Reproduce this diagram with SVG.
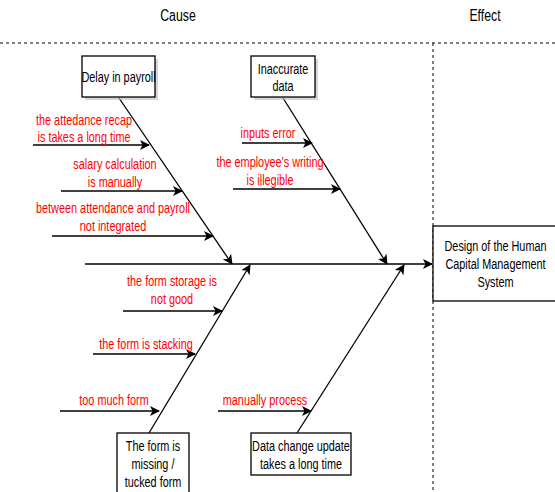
<svg xmlns="http://www.w3.org/2000/svg" width="555" height="492" viewBox="0 0 555 492">
<style>
.t{font-family:"Liberation Sans",Arial,sans-serif;font-size:14.5px;text-anchor:middle}
.r{fill:#ff0000}
.k{fill:#000}
.h{font-size:16px}
.ln{stroke:#000;stroke-width:1.3;fill:none}
.box{fill:#fff;stroke:#000;stroke-width:1.3}
.sh{fill:#bbb;opacity:0.6}
.dash{stroke:#000;stroke-width:1;stroke-dasharray:3 3;fill:none}
</style>
<defs>
<marker id="ah" viewBox="0 0 10 10" refX="9" refY="5" markerWidth="10" markerHeight="10" markerUnits="userSpaceOnUse" orient="auto">
<path d="M0,0 L10,5 L0,10 L2.5,5 Z" fill="#000"/>
</marker>
</defs>
<rect width="555" height="492" fill="#fff"/>
<g id="header">
<text class="t k h" transform="translate(178 21) scale(0.77 1)">Cause</text>
<text class="t k h" transform="translate(485 21) scale(0.77 1)">Effect</text>
<line class="dash" x1="0" y1="43" x2="555" y2="43"/>
<line class="dash" x1="433" y1="43" x2="433" y2="492"/>
</g>
<g id="connectors">
<line class="ln" x1="85" y1="264" x2="432" y2="264" marker-end="url(#ah)"/>
<line class="ln" x1="119" y1="98" x2="232" y2="264" marker-end="url(#ah)"/>
<line class="ln" x1="283" y1="98" x2="387" y2="264" marker-end="url(#ah)"/>
<line class="ln" x1="149" y1="433" x2="250" y2="265" marker-end="url(#ah)"/>
<line class="ln" x1="297" y1="433" x2="404" y2="265" marker-end="url(#ah)"/>
<line class="ln" x1="33" y1="145" x2="149" y2="145" marker-end="url(#ah)"/>
<line class="ln" x1="61" y1="191" x2="182" y2="191" marker-end="url(#ah)"/>
<line class="ln" x1="52" y1="236" x2="213" y2="236" marker-end="url(#ah)"/>
<line class="ln" x1="242" y1="143" x2="312" y2="143" marker-end="url(#ah)"/>
<line class="ln" x1="233" y1="189" x2="340" y2="189" marker-end="url(#ah)"/>
<line class="ln" x1="123" y1="311" x2="222" y2="311" marker-end="url(#ah)"/>
<line class="ln" x1="93" y1="354" x2="195" y2="354" marker-end="url(#ah)"/>
<line class="ln" x1="60" y1="411" x2="159" y2="411" marker-end="url(#ah)"/>
<line class="ln" x1="218" y1="411" x2="311" y2="411" marker-end="url(#ah)"/>
</g>
<g id="delay">
<rect class="sh" x="85" y="59" width="73" height="41"/>
<rect class="box" x="82" y="56" width="73" height="41"/>
<text class="t k" transform="translate(118.5 82) scale(0.75 1)">Delay in payroll</text>
</g>
<g id="inaccurate">
<rect class="sh" x="254" y="59" width="64" height="41"/>
<rect class="box" x="251" y="56" width="64" height="41"/>
<text class="t k" transform="translate(283 74) scale(0.75 1)">Inaccurate</text>
<text class="t k" transform="translate(283 91) scale(0.75 1)">data</text>
</g>
<g id="effect">
<rect class="box" x="433" y="226" width="130" height="75"/>
<text class="t k" transform="translate(495.5 251) scale(0.75 1)">Design of the Human</text>
<text class="t k" transform="translate(495.5 269) scale(0.75 1)">Capital Management</text>
<text class="t k" transform="translate(495.5 287) scale(0.75 1)">System</text>
</g>
<g id="form">
<rect class="box" x="117" y="433" width="72" height="70"/>
<text class="t k" transform="translate(153 451) scale(0.75 1)">The form is</text>
<text class="t k" transform="translate(153 469) scale(0.75 1)">missing /</text>
<text class="t k" transform="translate(153 487) scale(0.75 1)">tucked form</text>
</g>
<g id="datachange">
<rect class="box" x="251" y="433" width="100" height="42"/>
<text class="t k" transform="translate(301 451) scale(0.75 1)">Data change update</text>
<text class="t k" transform="translate(301 469) scale(0.75 1)">takes a long time</text>
</g>
<g id="causes">
<text class="t r" transform="translate(84 125) scale(0.75 1)">the attedance recap</text>
<text class="t r" transform="translate(84 142) scale(0.75 1)">is takes a long time</text>
<text class="t r" transform="translate(115 169) scale(0.75 1)">salary calculation</text>
<text class="t r" transform="translate(115 187) scale(0.75 1)">is manually</text>
<text class="t r" transform="translate(113 213) scale(0.75 1)">between attendance and payroll</text>
<text class="t r" transform="translate(113 231) scale(0.75 1)">not integrated</text>
<text class="t r" transform="translate(268 138) scale(0.75 1)">inputs error</text>
<text class="t r" transform="translate(270 167) scale(0.75 1)">the employee's writing</text>
<text class="t r" transform="translate(270 185) scale(0.75 1)">is illegible</text>
<text class="t r" transform="translate(172 286) scale(0.75 1)">the form storage is</text>
<text class="t r" transform="translate(172 304) scale(0.75 1)">not good</text>
<text class="t r" transform="translate(146 349) scale(0.75 1)">the form is stacking</text>
<text class="t r" transform="translate(114 405) scale(0.75 1)">too much form</text>
<text class="t r" transform="translate(265 405) scale(0.75 1)">manually process</text>
</g>
</svg>
